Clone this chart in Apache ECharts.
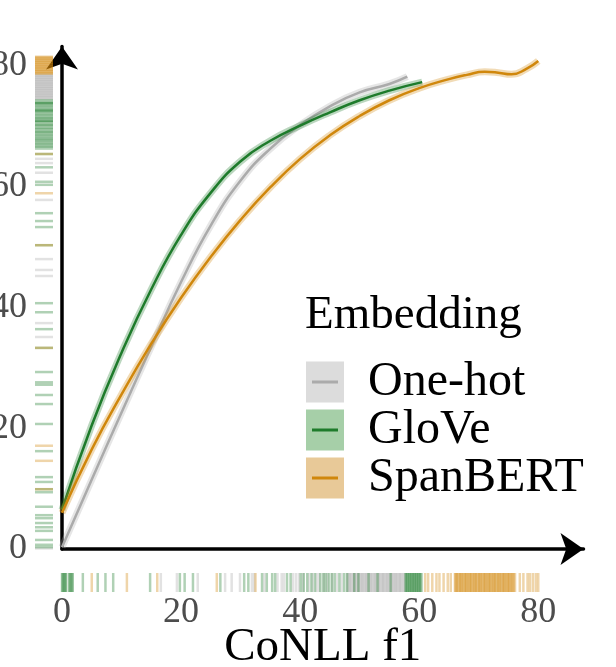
<!DOCTYPE html>
<html>
<head>
<meta charset="utf-8">
<script src="https://cdn.jsdelivr.net/npm/echarts@6/dist/echarts.min.js"></script>
<style>html,body{margin:0;padding:0;background:#fff}#main{width:616px;height:667px}</style>
</head>
<body>
<div id="main"></div>
<script>
// smoothed fits
var oneHotX = [0, 5, 10, 15, 20, 25, 30, 35, 40, 45, 50, 55, 58];
var oneHotY = [0.3, 11.5, 22.6, 33.5, 44.2, 53.6, 61.0, 66.3, 70.2, 73.3, 75.6, 77, 78.2];
var gloveX = [0, 5, 10, 15, 20, 25, 30, 35, 40, 45, 50, 55, 60.5];
var gloveY = [6.5, 20.5, 32.5, 43, 52, 59, 64.2, 67.6, 70.1, 72.3, 74.3, 75.9, 77.3];
var spanX = [0, 5, 10, 15, 20, 25, 30, 35, 40, 45, 50, 55, 60, 65, 68, 71, 73, 75.5, 78, 80];
var spanY = [6, 16.5, 25.6, 34, 41.6, 48.4, 54.5, 59.9, 64.6, 68.5, 71.7, 74.3, 76.3, 77.8, 78.5, 79, 78.9, 78.6, 79.5, 80.8];

// rug on the x axis (CoNLL f1)
var rugXOneHot = [16.6, 19.3, 22.8, 27.4, 28.5, 29.9, 31.9, 32.3, 34.0, 36.2, 36.9, 37.3, 38.8, 39.3, 39.8, 40.5, 41.5, 42.1, 42.8, 43.2, 44.0, 44.6, 45.4, 46.2, 47.0,
	47.9, 48.1, 48.3, 48.4, 48.6, 48.8, 49.0, 49.1, 49.3, 49.5, 49.7, 49.8, 50.0, 50.2, 50.4, 50.5, 50.7, 50.9, 51.1, 51.2, 51.4, 51.6, 51.8, 51.9, 52.1, 52.3, 52.5, 52.6,
	52.8, 53.0, 53.2, 53.3, 53.5, 53.7, 53.9, 54.0, 54.2, 54.4, 54.6, 54.7, 54.9, 55.1, 55.3, 55.4, 55.6, 55.8, 56.0, 56.1, 56.3, 56.5, 56.7, 56.8, 57.0, 57.2, 57.4, 57.6];
var rugXGloVe = [0.0, 0.1, 0.3, 0.4, 0.6, 0.7, 1.2, 1.3, 1.5, 1.7, 1.8, 3.5, 6.0, 7.3, 8.6, 14.8, 19.8, 20.6, 22.0, 26.6, 30.6, 31.3, 33.6, 34.4, 35.3, 35.8, 37.8, 38.4,
	40.1, 40.6, 41.2, 41.9, 42.5, 43.4, 43.9, 44.3, 44.8, 45.3, 45.8, 46.6, 47.4, 47.9, 49.1, 49.8, 51.5, 53.0, 55.2,
	57.7, 57.8, 58.0, 58.1, 58.3, 58.4, 58.6, 58.7, 58.9, 59.0, 59.2, 59.3, 59.5, 59.6, 59.8, 59.9, 60.1, 60.2, 60.4];
var rugXSpanBERT = [5.0, 10.9, 16.0, 26.0, 32.5, 61.0, 61.5, 62.2, 62.9, 63.4, 64.1, 64.8, 65.3,
	66.0, 66.1, 66.3, 66.4, 66.6, 66.8, 66.9, 67.1, 67.2, 67.4, 67.6, 67.7, 67.9, 68.0, 68.2, 68.4, 68.5, 68.7, 68.8, 69.0, 69.2, 69.3, 69.5, 69.6, 69.8, 70.0,
	70.1, 70.3, 70.4, 70.6, 70.8, 70.9, 71.1, 71.2, 71.4, 71.6, 71.7, 71.9, 72.0, 72.2, 72.4, 72.5, 72.7, 72.8, 73.0, 73.2, 73.3, 73.5, 73.6, 73.8, 74.0,
	74.1, 74.3, 74.4, 74.6, 74.8, 74.9, 75.1, 75.2, 75.4, 75.6, 75.7, 75.9, 76.1, 76.9, 77.5, 78.2, 78.6, 79.1, 79.6, 80.0];

// rug on the y axis
var rugYOneHot = [74.5, 74.7, 74.8, 75.0, 75.1, 75.3, 75.4, 75.6, 75.7, 75.9, 76.0, 76.2, 76.3, 76.5, 76.6, 76.8, 76.9, 77.1, 77.2, 77.4, 77.5, 77.7, 77.8, 78.0,
	78.1, 78.3, 78.4, 78.6, 64.6, 63.9, 62.3, 57.8, 48.0, 46.2, 45.2, 37.4, 35.1, 0.1];
var rugYGloVe = [66.3, 66.6, 66.8, 67.1, 67.3, 67.6, 67.8, 68.0, 68.3, 68.5, 68.8, 69.0, 69.2, 69.5, 69.7, 70.0, 70.2, 70.4, 70.7, 70.9, 70.9, 71.2, 71.4, 71.6,
	71.9, 72.1, 72.4, 72.6, 72.6, 72.8, 73.1, 73.3, 73.6, 73.8, 73.8, 74.0, 74.3,
	65.4, 63.2, 60.8, 60.3, 55.6, 54.3, 53.3, 50.3, 40.7, 39.2, 36.4, 33.3, 29.3, 27.6, 27.2, 25.5, 24.0, 20.7, 16.2, 11.9, 11.1, 9.9, 9.4, 7.0, 5.6, 5.1, 4.3,
	3.6, 3.0, 1.5, 0.7, 0.3];
var rugYSpanBERT = [78.7, 78.8, 79.0, 79.1, 79.3, 79.4, 79.6, 79.7, 79.9, 80.0, 80.2, 80.3, 80.5, 80.6, 80.8, 80.9, 81.1, 81.2, 81.4, 81.5,
	65.4, 58.9, 50.3, 33.3, 17.1, 14.6, 9.9];

var xTicks = [0, 20, 40, 60, 80];
var yTicks = [0, 20, 40, 60, 80];

var lineColors = ['#ababab', '#1e7b2b', '#d0870c'];
var keyColors = ['#dcdcdc', '#a6cfa8', '#e8c998'];
var names = ['One-hot', 'GloVe', 'SpanBERT'];
var serif = 'Liberation Serif';

var chart = echarts.init(document.getElementById('main'));

function pairs(xs, ys) {
	return xs.map(function (x, i) { return [x, ys[i]]; });
}
function rugBottom(color) {
	return function (params, api) {
		var p = api.coord([api.value(0), 0]);
		return {type: 'line', shape: {x1: p[0], y1: p[1] + 24, x2: p[0], y2: p[1] + 43},
			style: {stroke: color, lineWidth: 2.5, opacity: 0.35}};
	};
}
function rugLeft(color) {
	return function (params, api) {
		var p = api.coord([0, api.value(0)]);
		return {type: 'line', shape: {x1: p[0] - 27, y1: p[1], x2: p[0] - 9, y2: p[1]},
			style: {stroke: color, lineWidth: 2.5, opacity: 0.35}};
	};
}

var fits = [pairs(oneHotX, oneHotY), pairs(gloveX, gloveY), pairs(spanX, spanY)];
var rugsX = [rugXOneHot, rugXGloVe, rugXSpanBERT];
var rugsY = [rugYOneHot, rugYGloVe, rugYSpanBERT];
var series = [];
for (var i = 0; i < 3; i++) {
	series.push({
		type: 'custom', name: names[i] + ' rug x', clip: false, silent: true, z: 1,
		renderItem: rugBottom(lineColors[i]),
		data: rugsX[i].map(function (v) { return [v]; })
	});
	series.push({
		type: 'custom', name: names[i] + ' rug y', clip: false, silent: true, z: 1,
		renderItem: rugLeft(lineColors[i]),
		data: rugsY[i].map(function (v) { return [v]; })
	});
}
for (var j = 0; j < 3; j++) {
	series.push({
		type: 'line', name: names[j] + ' band', data: fits[j], smooth: 0.5,
		showSymbol: false, silent: true, z: 2 + j * 2,
		lineStyle: {color: lineColors[j], width: 7, opacity: 0.3}
	});
	series.push({
		type: 'line', name: names[j], data: fits[j], smooth: 0.5,
		showSymbol: false, z: 3 + j * 2, color: lineColors[j],
		lineStyle: {color: lineColors[j], width: 2.5}
	});
}

chart.setOption({
	animation: false,
	grid: {left: 62, right: 32.5, top: 46.5, bottom: 118, containLabel: false, outerBoundsMode: 'none'},
	title: {
		text: 'Embedding', left: 305, top: 292, padding: 0,
		textStyle: {fontFamily: serif, fontSize: 47, fontWeight: 'normal', color: '#000'}
	},
	legend: [{
		orient: 'vertical', left: 306, top: 358, itemWidth: 38, itemHeight: 41, itemGap: 0, padding: 0,
		selectedMode: false,
		textStyle: {fontFamily: serif, fontSize: 48, lineHeight: 41, color: '#000', padding: [0, 0, 0, 19]},
		data: names.map(function (n, k) { return {name: n, icon: 'rect', itemStyle: {color: keyColors[k], opacity: 1}}; })
	}, {
		orient: 'vertical', left: 312, top: 358, itemWidth: 26, itemHeight: 41, itemGap: 0, padding: 0,
		selectedMode: false,
		textStyle: {fontFamily: serif, fontSize: 48, lineHeight: 41, color: 'rgba(0,0,0,0)'},
		data: names.map(function (n, k) { return {name: n, icon: 'path://M0,0H26V3H0Z', itemStyle: {color: lineColors[k], opacity: 1}}; })
	}],
	xAxis: {
		type: 'value', min: 0, max: 87.6, interval: 20,
		name: 'CoNLL f1', nameLocation: 'middle', nameGap: 75, nameMoveOverlap: false,
		nameTextStyle: {fontFamily: serif, fontSize: 47, color: '#000'},
		axisLine: {show: true, lineStyle: {color: '#000', width: 3.5}, symbol: ['none', 'arrow'], symbolSize: [24, 23]},
		axisTick: {show: false}, splitLine: {show: false},
		axisLabel: {margin: 46, showMaxLabel: false, fontFamily: serif, fontSize: 36, color: '#4d4d4d',
			formatter: function (v) { return xTicks.indexOf(v) >= 0 ? String(v) : ''; }}
	},
	yAxis: {
		type: 'value', min: 0, max: 83.2, interval: 20,
		axisLine: {show: true, lineStyle: {color: '#000', width: 3.5}, symbol: ['none', 'arrow'], symbolSize: [24, 23]},
		axisTick: {show: false}, splitLine: {show: false},
		axisLabel: {margin: 35, showMaxLabel: false, fontFamily: serif, fontSize: 36, color: '#4d4d4d',
			formatter: function (v) { return yTicks.indexOf(v) >= 0 ? String(v) : ''; }}
	},
	series: series
});
</script>
</body>
</html>
